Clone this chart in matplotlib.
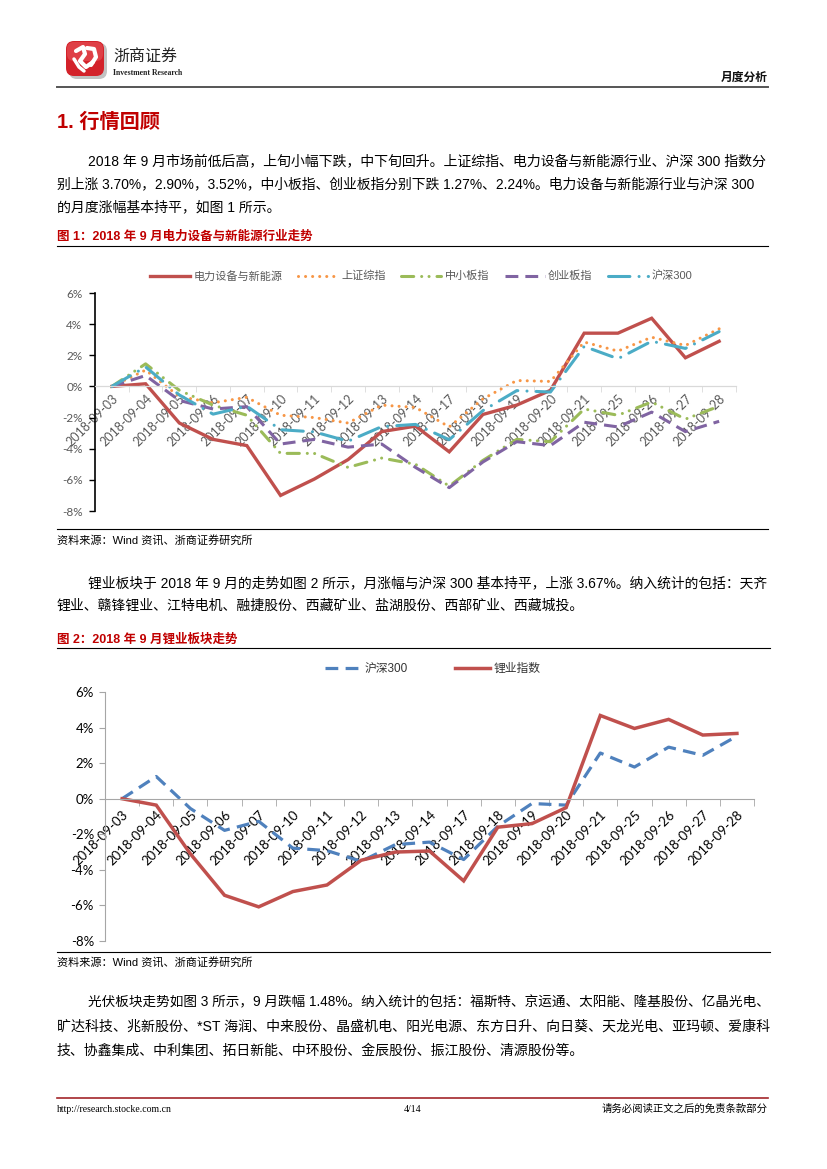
import matplotlib
matplotlib.use('Agg')
import matplotlib.pyplot as plt
from matplotlib.patches import FancyBboxPatch, Polygon
from matplotlib.lines import Line2D
from matplotlib.ticker import FuncFormatter
import numpy as np

# ---------------- data ----------------
dates = ['2018-09-03', '2018-09-04', '2018-09-05', '2018-09-06', '2018-09-07',
         '2018-09-10', '2018-09-11', '2018-09-12', '2018-09-13', '2018-09-14',
         '2018-09-17', '2018-09-18', '2018-09-19', '2018-09-20', '2018-09-21',
         '2018-09-25', '2018-09-26', '2018-09-27', '2018-09-28']
power = [0, 0.17, -2.35, -3.4, -3.8, -7.0, -5.95, -4.7, -2.9, -2.55,
         -4.2, -1.8, -1.2, -0.25, 3.42, 3.42, 4.38, 1.84, 2.90]
shci = [0, 1.05, -0.65, -1.05, -0.7, -1.85, -2.0, -2.35, -1.2, -1.35,
        -2.6, -0.8, 0.38, 0.32, 2.85, 2.27, 3.16, 2.63, 3.70]
sme = [0, 1.45, -0.25, -1.2, -1.85, -4.3, -4.3, -5.2, -4.6, -5.0,
       -6.4, -4.75, -3.4, -3.55, -1.45, -1.85, -1.0, -2.1, -1.27]
chinext = [0, 0.7, -0.9, -1.45, -1.3, -3.7, -3.4, -3.9, -3.7, -5.2,
           -6.5, -4.85, -3.55, -3.8, -2.3, -2.6, -1.65, -2.9, -2.24]
hs300 = [0, 1.25, -0.55, -1.78, -1.27, -2.78, -2.92, -3.52, -2.58, -2.44,
         -3.42, -1.55, -0.27, -0.36, 2.57, 1.78, 2.90, 2.44, 3.52]
lithium = [0, -0.36, -3.1, -5.43, -6.08, -5.22, -4.85, -3.46, -3.0, -2.94,
           -4.62, -1.6, -1.4, -0.5, 4.68, 3.95, 4.46, 3.58, 3.67]

names1 = ['电力设备与新能源', '上证综指', '中小板指', '创业板指', '沪深300']
names2 = ['沪深300', '锂业指数']
yticks = [-8, -6, -4, -2, 0, 2, 4, 6]

para1 = ['2018 年 9 月市场前低后高，上旬小幅下跌，中下旬回升。上证综指、电力设备与新能源行业、沪深 300 指数分',
         '别上涨 3.70%，2.90%，3.52%，中小板指、创业板指分别下跌 1.27%、2.24%。电力设备与新能源行业与沪深 300',
         '的月度涨幅基本持平，如图 1 所示。']
para2 = ['锂业板块于 2018 年 9 月的走势如图 2 所示，月涨幅与沪深 300 基本持平，上涨 3.67%。纳入统计的包括：天齐',
         '锂业、赣锋锂业、江特电机、融捷股份、西藏矿业、盐湖股份、西部矿业、西藏城投。']
para3 = ['光伏板块走势如图 3 所示，9 月跌幅 1.48%。纳入统计的包括：福斯特、京运通、太阳能、隆基股份、亿晶光电、',
         '旷达科技、兆新股份、*ST 海润、中来股份、晶盛机电、阳光电源、东方日升、向日葵、天龙光电、亚玛顿、爱康科',
         '技、协鑫集成、中利集团、拓日新能、中环股份、金辰股份、振江股份、清源股份等。']

# ---------------- setup ----------------
W, H = 827, 1169
CJK = 'Noto Sans CJK SC'
plt.rcParams['font.family'] = ['Liberation Sans', CJK]
plt.rcParams['axes.unicode_minus'] = False
fig = plt.figure(figsize=(W / 100, H / 100), dpi=100)
fig.patch.set_facecolor('white')
renderer = fig.canvas.get_renderer()
RED = '#C00000'


def fx(x):
    return x / W


def fy(y):
    return 1 - y / H


def hline(x0, x1, y, color='black', lw=0.8):
    fig.add_artist(Line2D([fx(x0), fx(x1)], [fy(y), fy(y)], transform=fig.transFigure,
                          color=color, lw=lw))


def put(text, x, y, size=10, ha='left', color='black', weight='normal', family=None, x1=None):
    kw = dict(fontsize=size, ha=ha, va='center', color=color, fontweight=weight)
    if family is not None:
        kw['family'] = family
    t = fig.text(fx(x), fy(y), text, **kw)
    if x1 is not None:
        w = t.get_window_extent(renderer=renderer).width
        target = x1 - x
        s = size * target / w
        s = max(size * 0.88, min(size * 1.12, s))
        t.set_fontsize(s)
    return t


# ---------------- header ----------------
lax = fig.add_axes([fx(63), fy(81), 48 / W, 42 / H])
lax.set_xlim(0, 48)
lax.set_ylim(0, 42)
lax.axis('off')
lax.add_patch(FancyBboxPatch((6, 2), 38, 36, boxstyle='round,pad=0,rounding_size=8',
                             fc='#9a9a9a', ec='none', alpha=0.6))
lax.add_patch(FancyBboxPatch((3, 5), 38, 35, boxstyle='round,pad=0,rounding_size=8',
                             fc='#D3222A', ec='none'))
lax.add_patch(FancyBboxPatch((4, 20), 36, 19, boxstyle='round,pad=0,rounding_size=7',
                             fc='#E8545A', ec='none', alpha=0.6))
lax.plot([13, 20, 22, 17, 23, 30], [30, 34, 27, 20, 14, 19], color='white', lw=3,
         solid_capstyle='round')
lax.plot([24, 31, 33, 28], [33, 32, 24, 16], color='white', lw=3, solid_capstyle='round')
lax.plot([11, 16, 21], [22, 14, 10], color='white', lw=2.5, solid_capstyle='round')

put('浙商证券', 113, 57, size=11.5, color='#222222', family=[CJK])
put('Investment Research', 113, 73, size=5.6, color='#222222', weight='bold',
    family=['Liberation Serif'])
put('月度分析', 768, 78, size=8.5, ha='right', weight='bold', color='#111111')
hline(57, 768, 87, color='#555555', lw=1.4)

put('1. 行情回顾', 57, 122, size=14.5, color=RED, weight='bold')

for i, line in enumerate(para1):
    x0 = 88 if i == 0 else 57
    x1 = {0: 768, 1: 756}.get(i)
    put(line, x0, 162 + i * 22.5, size=10, x1=x1)

put('图 1：2018 年 9 月电力设备与新能源行业走势', 57, 237, size=9, color=RED, weight='bold')
hline(57, 768, 246)

# ---------------- chart 1 ----------------
x = np.arange(len(dates))
ax1 = fig.add_axes([fx(95), fy(511), (736 - 95) / W, (511 - 293) / H])
lw = 2.2
l_power, = ax1.plot(x, power, color='#C0504D', lw=2.4, solid_joinstyle='miter')
l_shci, = ax1.plot(x, shci, color='#F79646', lw=lw, linestyle=(0, (0.01, 2.3)),
                   dash_capstyle='round')
l_sme, = ax1.plot(x, sme, color='#9BBB59', lw=lw, linestyle=(0, (4, 2.6, 0.01, 2.4, 0.01, 2.6)),
                  dash_capstyle='round')
l_chi, = ax1.plot(x, chinext, color='#8064A2', lw=lw, linestyle=(0, (4.2, 2.3)))
l_hs, = ax1.plot(x, hs300, color='#4BACC6', lw=lw, linestyle=(0, (7, 3, 0.01, 3)),
                 dash_capstyle='round')
ax1.set_xlim(-0.5, len(dates) - 0.5)
ax1.set_ylim(-8, 6)
ax1.set_yticks(yticks)
ax1.yaxis.set_major_formatter(FuncFormatter(lambda v, p: f'{v:.0f}%'))
for s in ['top', 'right']:
    ax1.spines[s].set_visible(False)
ax1.spines['left'].set_color('black')
ax1.spines['left'].set_linewidth(1.2)
ax1.spines['bottom'].set_position(('data', 0))
ax1.spines['bottom'].set_color('#D9D9D9')
ax1.spines['bottom'].set_linewidth(0.9)
ax1.set_facecolor('none')
ax1.tick_params(axis='y', direction='out', length=4, width=1, color='black',
                labelcolor='#595959', labelsize=8.5, pad=5)
for lab in ax1.get_yticklabels():
    lab.set_family(['Lato'])
ax1.set_xticks(x)
ax1.set_xticklabels(dates, rotation=45, ha='right', va='top', rotation_mode='anchor',
                    fontsize=9, color='#595959', family=['Lato'])
ax1.set_xticks(np.arange(-0.5, len(dates)), minor=True)
ax1.tick_params(axis='x', which='major', length=0, pad=4)
ax1.tick_params(axis='x', which='minor', length=4, color='#D9D9D9', direction='out')

fig.legend([l_power, l_shci, l_sme, l_chi, l_hs], names1, loc='center',
           bbox_to_anchor=(fx(421), fy(276)), ncol=5, frameon=False, fontsize=8,
           handlelength=3.6, columnspacing=1.4, handletextpad=0.3, labelcolor='#595959')

hline(57, 768, 529)
put('资料来源：Wind 资讯、浙商证券研究所', 57, 541, size=8)

for i, line in enumerate(para2):
    x0 = 88 if i == 0 else 57
    x1 = 768 if i == 0 else None
    put(line, x0, 583 + i * 23, size=10, x1=x1)

put('图 2：2018 年 9 月锂业板块走势', 57, 640, size=9, color=RED, weight='bold')
hline(57, 770, 648)

# ---------------- chart 2 ----------------
ax2 = fig.add_axes([fx(105), fy(941), (754 - 105) / W, (941 - 692) / H])
m_hs, = ax2.plot(x, hs300, color='#4F81BD', lw=2.3, linestyle=(0, (4, 2.3)))
m_li, = ax2.plot(x, lithium, color='#C0504D', lw=2.5, solid_joinstyle='miter')
ax2.set_xlim(-0.5, len(dates) - 0.5)
ax2.set_ylim(-8, 6)
ax2.set_yticks(yticks)
ax2.yaxis.set_major_formatter(FuncFormatter(lambda v, p: f'{v:.0f}%'))
for s in ['top', 'right']:
    ax2.spines[s].set_visible(False)
ax2.spines['left'].set_color('#A6A6A6')
ax2.spines['bottom'].set_position(('data', 0))
ax2.spines['bottom'].set_color('#A6A6A6')
ax2.set_facecolor('none')
ax2.tick_params(axis='y', direction='out', length=4, color='#A6A6A6',
                labelcolor='black', labelsize=9.5, pad=4)
for lab in ax2.get_yticklabels():
    lab.set_family(['Lato'])
ax2.set_xticks(x)
ax2.set_xticklabels(dates, rotation=45, ha='right', va='top', rotation_mode='anchor',
                    fontsize=9.5, color='black', family=['Lato'])
ax2.set_xticks(np.arange(-0.5, len(dates)), minor=True)
ax2.tick_params(axis='x', which='major', length=0, pad=7)
ax2.tick_params(axis='x', which='minor', length=5, color='#A6A6A6', direction='out')

fig.legend([m_hs, m_li], names2, loc='center', bbox_to_anchor=(fx(433), fy(669)), ncol=2,
           frameon=False, fontsize=8.5, handlelength=3.0, columnspacing=4.0,
           handletextpad=0.3, labelcolor='#333333')

hline(57, 770, 952)
put('资料来源：Wind 资讯、浙商证券研究所', 57, 963, size=8)

for i, line in enumerate(para3):
    x0 = 88 if i == 0 else 57
    x1 = 768 if i < 2 else None
    put(line, x0, 1002 + i * 24.5, size=10, x1=x1)

# ---------------- footer ----------------
hline(57, 768, 1098, color='#A3262A', lw=1.2)
put('http://research.stocke.com.cn', 57, 1109, size=7, family=['Liberation Serif'])
put('4/14', 413, 1109, size=7, ha='center', family=['Liberation Serif'])
put('请务必阅读正文之后的免责条款部分', 768, 1109, size=7.5, ha='right', family=[CJK])

fig.savefig('out.png', dpi=100, facecolor='white')
